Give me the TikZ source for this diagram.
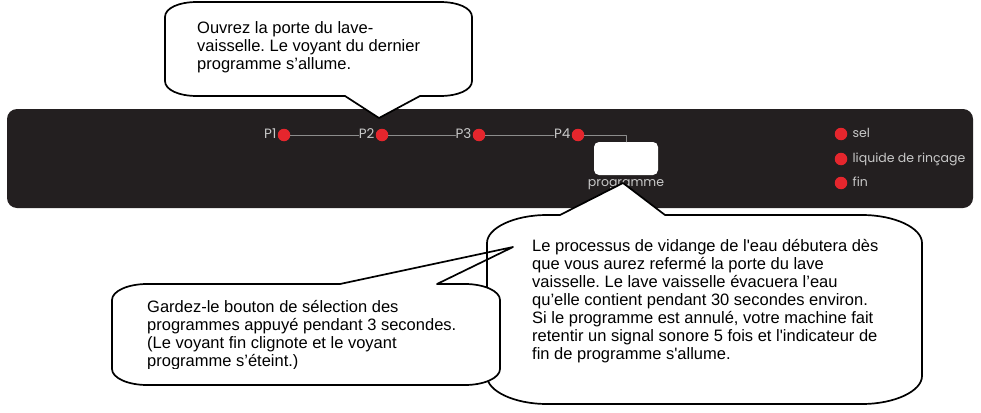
\documentclass[tikz,border=0pt]{standalone}
\usepackage{fontspec}
\setmainfont{Liberation Sans}
\newfontfamily\panelfont{Poppins}
\usepackage{tikz}
\usetikzlibrary{positioning}
\frenchspacing
\definecolor{lvPanel}{HTML}{231F20}
\definecolor{lvRed}{HTML}{E5262D}
\definecolor{lvText}{HTML}{C8C8C8}
\definecolor{lvWire}{HTML}{8C8C8C}
\tikzset{
  lv diagram/.style={x=1pt, y=-1pt, line cap=round, line join=round},
  lv panel/.style={fill=lvPanel, rounded corners=10pt, inner sep=0pt},
  lv led/.style={circle, fill=lvRed, minimum size=12.5pt, inner sep=0pt},
  lv label/.style={font=\panelfont\fontsize{12.5}{14}\selectfont, text=lvText,
    inner sep=0pt, text height=1.55ex, text depth=0.35ex},
  lv plabel/.style={lv label, font=\panelfont\fontsize{13.5}{14}\selectfont},
  lv wire/.style={draw=lvWire, line width=0.9pt},
  lv button/.style={fill=white, rounded corners=5pt, minimum width=64pt,
    minimum height=33pt, inner sep=0pt},
  lv bubble/.style={draw=black, fill=white, line width=1.7pt},
  lv note/.style={font=\fontsize{16.5}{18}\selectfont, align=left,
    inner sep=0pt, anchor=north west}
}
\begin{document}
\begin{tikzpicture}[lv diagram]
\useasboundingbox (0,0) rectangle (981,412);
% control panel
\node[lv panel, minimum width=966pt, minimum height=99pt] (panel) at (490,158.5) {};
\node[lv led] (p1) at (284,135) {};
\node[lv led] (p2) at (382,135) {};
\node[lv led] (p3) at (479,135) {};
\node[lv led] (p4) at (578,135) {};
\node[lv plabel, left=1pt of p1] (lp1) {P1};
\node[lv plabel, left=1pt of p2] (lp2) {P2};
\node[lv plabel, left=1pt of p3] (lp3) {P3};
\node[lv plabel, left=1pt of p4] (lp4) {P4};
\draw[lv wire] (p1) -- (lp2);
\draw[lv wire] (p2) -- (lp3);
\draw[lv wire] (p3) -- (lp4);
\node[lv button] (prog) at (626,158.5) {};
\node[lv label, below=3pt of prog] (lprog) {programme};
\draw[lv wire] (p4) -| (prog);
\node[lv led] (sel) at (841,134) {};
\node[lv led] (rinse) at (841,159) {};
\node[lv led] (fin) at (841,183) {};
\node[lv label, right=5pt of sel] {sel};
\node[lv label, right=5pt of rinse] {liquide de rinçage};
\node[lv label, right=5pt of fin] {fin};
% callout: open the door
\draw[lv bubble] (197,2) -- (440,2) .. controls (458,2) and (472,8) .. (472,17)
  -- (472,81) .. controls (472,90) and (458,96) .. (440,96) -- (420,96)
  -- (379,118) -- (345,96) -- (197,96) .. controls (179,96) and (165,90) .. (165,81)
  -- (165,17) .. controls (165,8) and (179,2) .. (197,2) -- cycle;
\node[lv note] (open) at (197,21) {Ouvrez la porte du lave-\\vaisselle. Le voyant du dernier\\programme s’allume.};
% callout: draining
\draw[lv bubble] (547,215) -- (560,215) -- (623,183) -- (665,215) -- (862,215)
  .. controls (895,215) and (922,228) .. (922,243) -- (922,376)
  .. controls (922,391) and (895,404) .. (862,404) -- (547,404)
  .. controls (514,404) and (487,391) .. (487,376) -- (487,243)
  .. controls (487,228) and (514,215) .. (547,215) -- cycle;
\node[lv note] (drain) at (532,239) {Le processus de vidange de l\textquotesingle eau débutera dès\\que vous aurez refermé la porte du lave\\vaisselle. Le lave vaisselle évacuera l’eau\\qu’elle contient pendant 30 secondes environ.\\Si le programme est annulé, votre machine fait\\retentir un signal sonore 5 fois et l\textquotesingle indicateur de\\fin de programme s\textquotesingle allume.};
% callout: hold the button
\fill[white] (147,284) -- (465,284) .. controls (484,284) and (500,291) .. (500,300)
  -- (500,369) .. controls (500,378) and (484,385) .. (465,385) -- (147,385)
  .. controls (128,385) and (112,378) .. (112,369) -- (112,300)
  .. controls (112,291) and (128,284) .. (147,284) -- cycle;
\draw[lv bubble, fill=none] (147,284) -- (340,284) -- (513,247) -- (437,284) -- (465,284)
  .. controls (484,284) and (500,291) .. (500,300) -- (500,369)
  .. controls (500,378) and (484,385) .. (465,385) -- (147,385)
  .. controls (128,385) and (112,378) .. (112,369) -- (112,300)
  .. controls (112,291) and (128,284) .. (147,284) -- cycle;
\begin{scope}
\clip (112,284) rectangle (500,368);
\node[lv note] (hold) at (147,300) {Gardez-le bouton de sélection des\\programmes appuyé pendant 3 secondes.\\(Le voyant fin clignote et le voyant\\programme s’éteint.)};
\end{scope}
\end{tikzpicture}
\end{document}
